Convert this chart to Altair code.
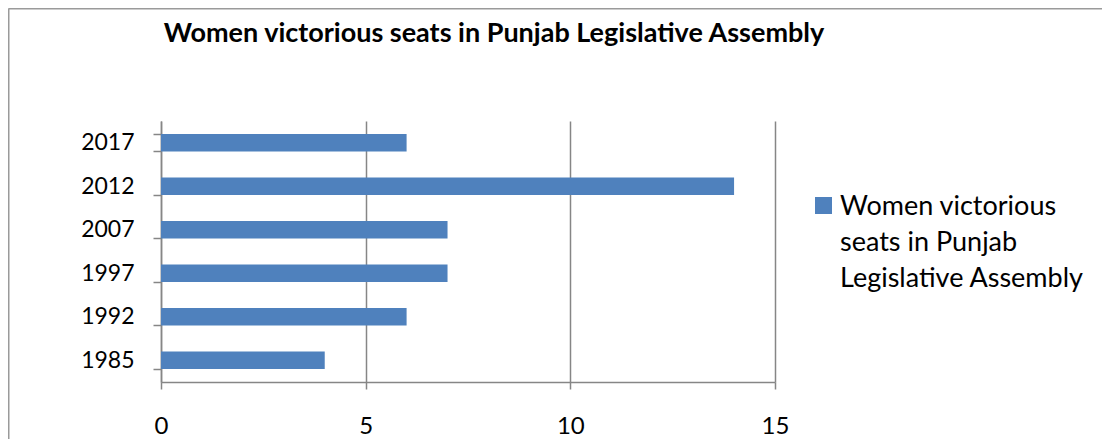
import altair as alt
import pandas as pd

years = ["2017", "2012", "2007", "1997", "1992", "1985"]
seats = [6, 14, 7, 7, 6, 4]
series_name = "Women victorious seats in Punjab Legislative Assembly"
legend_lines = ["Women victorious", "seats in Punjab", "Legislative Assembly"]
x_ticks = [0, 5, 10, 15]
title_text = "Women victorious seats in Punjab Legislative Assembly"

df = pd.DataFrame({"Year": years, "Seats": seats, "Series": series_name})

FONT = "Lato"
GRAY = "#868686"
BLUE = "#4F81BD"

bars = alt.Chart(df).mark_bar(color=BLUE).encode(
    y=alt.Y(
        "Year:N", sort=years,
        scale=alt.Scale(paddingInner=0.6, paddingOuter=0.3),
        axis=alt.Axis(title=None, tickBand="extent", tickSize=8, tickColor=GRAY,
                      tickWidth=1.5, domainColor=GRAY, domainWidth=1.5,
                      labelFontSize=23, labelFont=FONT, labelColor="black",
                      labelPadding=19, grid=False),
    ),
    x=alt.X(
        "Seats:Q",
        scale=alt.Scale(domain=[0, 15], nice=False),
        axis=alt.Axis(title=None, values=x_ticks, grid=True, gridColor=GRAY,
                      gridWidth=1.5, tickSize=7, tickColor=GRAY, tickWidth=1.5,
                      domainColor=GRAY, domainWidth=1.5, labelFontSize=24,
                      labelFont=FONT, labelColor="black", labelPadding=25,
                      labelBaseline="top", labelFlush=False),
    ),
)

one_df = pd.DataFrame({"Series": [series_name]})
legend_sym = alt.Chart(one_df).mark_square(size=289, color=BLUE, opacity=1).encode(
    x=alt.value(662.5), y=alt.value(84.5)
)
legend_txt = alt.Chart(one_df).mark_text(
    text=legend_lines, font=FONT, fontSize=27, align="left", baseline="alphabetic",
    lineHeight=36, color="black"
).encode(x=alt.value(679), y=alt.value(94))

title_mark = alt.Chart(one_df).mark_text(
    text=title_text, font=FONT, fontSize=27, fontWeight="bold", align="center",
    baseline="alphabetic", color="black"
).encode(x=alt.value(333), y=alt.value(-79.5))

frame_top = alt.Chart(one_df).mark_rule(color="#9a9a9a", strokeWidth=2).encode(
    x=alt.value(-152.5), x2=alt.value(941), y=alt.value(-112.5)
)
frame_left = alt.Chart(one_df).mark_rule(color="#9a9a9a", strokeWidth=2).encode(
    x=alt.value(-152.5), y=alt.value(-112.5), y2=alt.value(330)
)

chart = alt.layer(frame_top, frame_left, bars, legend_sym, legend_txt, title_mark).properties(
    width=614, height=261,
    autosize=alt.AutoSizeParams(type="none"),
    padding={"left": 153, "top": 113, "right": 327, "bottom": 57},
).configure_view(stroke=None)

chart.save("out.html", embed_options={"renderer": "svg", "actions": False})
